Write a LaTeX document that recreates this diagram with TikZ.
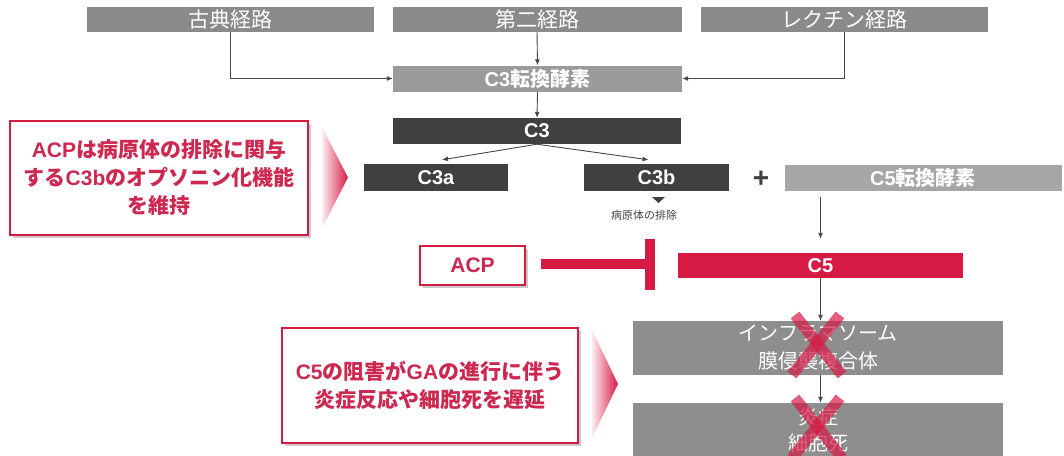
\documentclass[tikz,border=0pt]{standalone}
\usepackage{fontspec}
\setmainfont{Noto Sans CJK JP}
\newfontfamily\arialf{Liberation Sans}
\newcommand\latn[1]{{\arialf #1}}
\usetikzlibrary{shadows,arrows.meta}
\definecolor{crim}{RGB}{215,26,68}
\definecolor{ctext}{RGB}{204,40,80}
\definecolor{gtop}{RGB}{138,138,138}
\definecolor{gconv}{RGB}{155,155,155}
\definecolor{gcfive}{RGB}{166,166,166}
\definecolor{gbot}{RGB}{142,142,142}
\definecolor{dark}{RGB}{64,64,64}
\definecolor{arrc}{RGB}{70,70,70}
\begin{document}
\begin{tikzpicture}[x=1pt,y=-1pt,
  box/.style={rectangle, inner sep=0pt, text=white, align=center,
    font=\fontsize{21}{28}\selectfont},
  boldbox/.style={box, font=\fontsize{20}{26}\selectfont\bfseries},
  arr/.style={draw=arrc, line width=0.9pt, -{Latex[length=6pt,width=5pt]}},
  callout/.style={rectangle, draw=crim, line width=1.3pt, fill=white, inner sep=0pt,
    text=ctext, align=center, font=\fontsize{21}{28}\selectfont\bfseries,
    drop shadow={shadow xshift=2.5pt, shadow yshift=-2.5pt, opacity=0.35, fill=black!60}},
  inhib/.style={draw=crim, line width=10pt},
  xmark/.style={draw=crim, line width=11pt, opacity=0.7},
]
\useasboundingbox (0,0) rectangle (1064,455);

% top pathways
\node[box, fill=gtop, minimum width=287pt, minimum height=25pt] (classic) at (230,19.5) {古典経路};
\node[box, fill=gtop, minimum width=289pt, minimum height=25pt] (alt) at (537,19.5) {第二経路};
\node[box, fill=gtop, minimum width=287pt, minimum height=25pt] (lectin) at (844.5,19.5) {レクチン経路};

\node[boldbox, fill=gconv, minimum width=289pt, minimum height=26pt] (c3conv) at (537.5,78.5) {\latn{C3}転換酵素};
\node[boldbox, fill=dark, minimum width=288pt, minimum height=26pt] (c3) at (537,131) {\latn{C3}};
\node[boldbox, fill=dark, minimum width=144pt, minimum height=27pt] (c3a) at (436,177.5) {\latn{C3a}};
\node[boldbox, fill=dark, minimum width=145pt, minimum height=27pt] (c3b) at (656.5,177.5) {\latn{C3b}};
\node[boldbox, fill=gcfive, minimum width=277pt, minimum height=26pt] (c5conv) at (923,178) {\latn{C5}転換酵素};
\node[boldbox, fill=crim, minimum width=285pt, minimum height=25pt] (c5) at (820.5,265.5) {\latn{C5}};
\node[box, fill=gbot, minimum width=370pt, minimum height=54pt, font=\fontsize{20}{28}\selectfont] (inflam) at (818,348) {インフラマソーム\\膜侵襲複合体};
\node[box, fill=gbot, minimum width=370pt, minimum height=54pt, font=\fontsize{20}{26}\selectfont] (death) at (818,430) {炎症\\細胞死};

\node[font=\fontsize{28}{28}\selectfont\bfseries, text=dark] (plus) at (761,179) {\latn{+}};

% arrows
\draw[arr] (classic.south) |- (c3conv.west);
\draw[arr] (lectin.south) |- (c3conv.east);
\draw[arr] (alt.south) -- (c3conv.north);
\draw[arr] (c3conv.south) -- (c3.north);
\draw[arr] (c3.south) -- ([xshift=6pt,yshift=4pt]c3a.north);
\draw[arr] (c3.south) -- ([xshift=-8pt,yshift=4pt]c3b.north);
\draw[arr, shorten <=6pt, shorten >=14pt] (c5conv.south -| c5.north) -- (c5.north);
\draw[arr] (c5.south) -- (c5.south |- inflam.north);
\draw[arr] (inflam.south -| c5.south) -- (death.north -| c5.south);

% elimination marker
\fill[dark] (652,197) -- (665,197) -- (658.5,203) -- cycle;
\node[font=\fontsize{11}{13}\selectfont, text=dark] (elim) at (644,215) {病原体の排除};

% ACP inhibition
\node[callout, minimum width=105pt, minimum height=39pt] (acp) at (472.5,265.5) {\latn{ACP}};
\coordinate (tb) at (650,264);
\draw[inhib] ([xshift=15pt]acp.east |- tb) -- (tb);
\draw[inhib] ([yshift=25pt]tb) -- ([yshift=-26pt]tb);

% callouts
\node[callout, minimum width=298pt, minimum height=114pt] (call1) at (159,178)
  {\latn{ACP}は病原体の排除に関与\\する\latn{C3b}のオプソニン化機能\\を維持};
\node[callout, minimum width=296pt, minimum height=115pt] (call2) at (430,385.5)
  {\latn{C5}の阻害が\latn{GA}の進行に伴う\\炎症反応や細胞死を遅延};

\shade[left color=crim!8, right color=crim] (322,127) -- (348,177.5) -- (322,228) -- cycle;
\shade[left color=crim!8, right color=crim] (592,330) -- (618,384) -- (592,438) -- cycle;

% red crosses
\draw[xmark] (795,315) -- (842,375);
\draw[xmark] (840,315) -- (792,375);
\draw[xmark] (795,398) -- (842,458);
\draw[xmark] (840,398) -- (792,458);
\end{tikzpicture}
\end{document}
